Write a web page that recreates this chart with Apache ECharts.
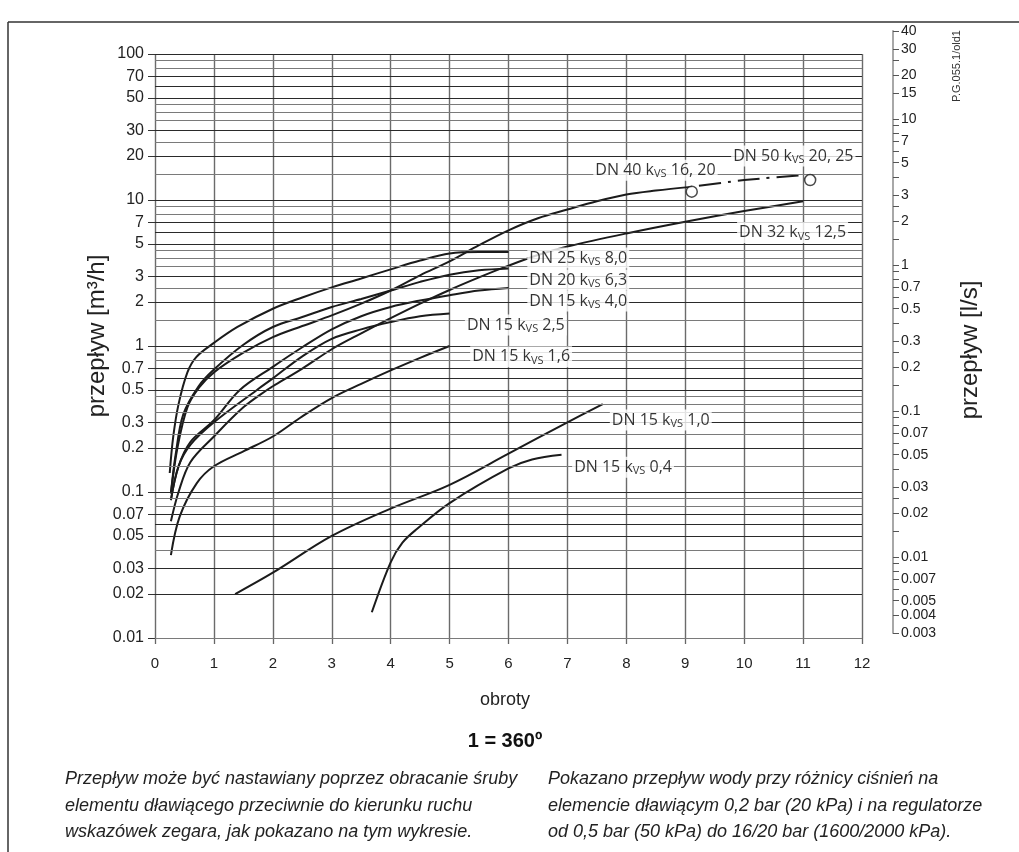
<!DOCTYPE html>
<html>
<head>
<meta charset="utf-8">
<script src="https://cdn.jsdelivr.net/npm/echarts@6/dist/echarts.min.js"></script>
<style>
  html, body { margin: 0; padding: 0; background: #fff; }
  #chart { width: 1019px; height: 852px; }
</style>
</head>
<body>
<div id="chart"></div>
<script>
// curves: [obroty, przepływ m3/h]
const dn25_80 = [[0.25,0.135],[0.31,0.24],[0.4,0.4],[0.55,0.66],[0.7,0.84],[1,1.05],[1.4,1.35],[2,1.8],[2.5,2.15],[3,2.52],[3.5,2.9],[4,3.35],[4.5,3.85],[5,4.3],[5.5,4.4],[6,4.4]];
const dn20_63 = [[0.27,0.098],[0.35,0.18],[0.48,0.34],[0.74,0.53],[1,0.69],[1.5,1.02],[2,1.35],[2.5,1.58],[3,1.85],[3.5,2.1],[4,2.4],[4.5,2.75],[5,3.08],[5.5,3.3],[6,3.4]];
const dn40_16 = [[0.27,0.098],[0.38,0.2],[0.55,0.38],[0.75,0.52],[1,0.66],[1.5,0.9],[2,1.15],[2.5,1.37],[3,1.62],[3.5,1.95],[4,2.4],[4.5,3.05],[5,3.8],[5.5,4.9],[6,6.2],[6.5,7.5],[7,8.6],[7.5,9.8],[8,10.9],[8.5,11.6],[9.1,12.3]];
const dn50_20 = [[9.1,12.3],[10,13.7],[11,14.8]];
const dn32_125 = [[0.27,0.063],[0.4,0.1],[0.6,0.16],[1,0.24],[1.5,0.38],[1.9,0.5],[2,0.53],[2.5,0.7],[3,0.95],[3.5,1.22],[4,1.55],[4.5,1.95],[5,2.42],[5.5,2.95],[6,3.55],[6.5,4.2],[7,4.8],[8,5.9],[9,7.1],[10,8.4],[11,9.8]];
const dn15_40 = [[0.27,0.088],[0.4,0.15],[0.6,0.22],[1,0.31],[1.44,0.5],[2,0.72],[2.5,0.98],[3,1.3],[3.5,1.6],[4,1.85],[4.5,2.05],[5,2.23],[5.5,2.4],[6,2.5]];
const dn15_25 = [[0.27,0.088],[0.4,0.15],[0.6,0.21],[1,0.3],[1.73,0.5],[2,0.6],[2.5,0.85],[3,1.12],[3.5,1.3],[4,1.46],[4.5,1.6],[5,1.67]];
const dn15_16 = [[0.27,0.037],[0.42,0.068],[0.71,0.115],[1,0.15],[1.5,0.19],[2,0.24],[2.5,0.33],[3,0.44],[3.5,0.55],[4,0.68],[4.5,0.83],[5,1.0]];
const dn15_10 = [[1.36,0.02],[2,0.028],[3,0.05],[4,0.077],[5,0.112],[6,0.183],[7,0.3],[7.6,0.4]];
const dn15_04 = [[3.68,0.015],[4,0.033],[4.2,0.045],[4.45,0.056],[5,0.084],[6,0.145],[6.4,0.167],[6.9,0.18]];
const endPoints = [[9.11,11.4],[11.12,13.7]];

// curve labels: [x, y, DN, kvs]
const curveLabels = [
  [9.78, 20, 'DN 50', '20, 25'],
  [7.44, 16, 'DN 40', '16, 20'],
  [9.88, 6, 'DN 32', '12,5'],
  [6.32, 4, 'DN 25', '8,0'],
  [6.32, 2.83, 'DN 20', '6,3'],
  [6.32, 2.03, 'DN 15', '4,0'],
  [5.26, 1.39, 'DN 15', '2,5'],
  [5.35, 0.845, 'DN 15', '1,6'],
  [7.72, 0.311, 'DN 15', '1,0'],
  [7.08, 0.148, 'DN 15', '0,4']
];

// axis ticks
const leftLabels = [0.01,0.02,0.03,0.05,0.07,0.1,0.2,0.3,0.5,0.7,1,2,3,5,7,10,20,30,50,70,100];
const gridMultipliers = [1,1.5,2,2.5,3,3.5,4,4.5,5,6,7,8,9];
const gridDecades = [0.01,0.1,1,10];
const rightLabels = [40,30,20,15,10,7,5,3,2,1,0.7,0.5,0.3,0.2,0.1,0.07,0.05,0.03,0.02,0.01,0.007,0.005,0.004,0.003];
const rightTicks = [40,30,25,20,15,10,9,8,7,6,5,4,3,2.5,2,1.5,1,0.9,0.8,0.7,0.6,0.5,0.4,0.3,0.25,0.2,0.15,0.1,0.09,0.08,0.07,0.06,0.05,0.04,0.03,0.025,0.02,0.015,0.01,0.009,0.008,0.007,0.006,0.005,0.004,0.003];

const fmt = (v) => String(parseFloat(Number(v).toPrecision(6)));
const near = (a, b) => Math.abs(a - b) / b < 1e-6;
const isMajor = (v) => leftLabels.some((l) => near(v, l)) || [60, 6, 0.6, 0.06].some((l) => near(v, l));

const gridValues = [];
gridDecades.forEach((d) => gridMultipliers.forEach((m) => gridValues.push(+(m * d).toPrecision(6))));
gridValues.push(100);

const FONT = "'Liberation Sans', Arial, sans-serif";
const INK = '#1b1b1b';

function curve(data, extra) {
  return Object.assign({
    type: 'line',
    data: data,
    showSymbol: false,
    smooth: 0.35,
    lineStyle: { color: INK, width: 2 },
    silent: true,
    z: 3
  }, extra || {});
}

const chart = echarts.init(document.getElementById('chart'), null, { renderer: 'canvas' });

chart.setOption({
  animation: false,
  backgroundColor: '#fff',
  grid: [
    { left: 155, right: 157, top: 54, bottom: 214 },
    { left: 893, width: 60, top: 30.9, height: 602.2 }
  ],
  xAxis: [
    {
      type: 'value', min: 0, max: 12, interval: 1,
      axisLine: { show: true, lineStyle: { color: '#333', width: 1 } },
      axisTick: { show: true, length: 6, lineStyle: { color: '#666', width: 1.3 } },
      axisLabel: { color: '#222', fontSize: 15, fontFamily: FONT, margin: 18 },
      splitLine: { show: true, lineStyle: { color: '#6b6b6b', width: 1.4 } }
    },
    { gridIndex: 1, type: 'value', min: 0, max: 1, show: false }
  ],
  yAxis: [
    {
      type: 'log', logBase: 10, min: 0.01, max: 100,
      axisLine: { show: false },
      axisTick: { show: true, length: 7, customValues: leftLabels, lineStyle: { color: '#333', width: 1 } },
      axisLabel: { color: '#222', fontSize: 16, fontFamily: FONT, margin: 11, customValues: leftLabels, formatter: fmt },
      splitLine: { show: false }
    },
    {
      gridIndex: 1, type: 'log', logBase: 10, min: 0.003, max: 40, position: 'left',
      axisLine: { show: true, lineStyle: { color: '#a8a8a8', width: 2 } },
      axisTick: { show: true, inside: true, length: 6, customValues: rightTicks, lineStyle: { color: '#555', width: 1 } },
      axisLabel: { inside: true, color: '#222', fontSize: 14, fontFamily: FONT, margin: 8, customValues: rightLabels, formatter: fmt },
      splitLine: { show: false }
    }
  ],
  series: [
    {
      type: 'line',
      data: [[0, 0.01]],
      showSymbol: false,
      lineStyle: { opacity: 0 },
      silent: true,
      z: 1,
      markLine: {
        silent: true,
        symbol: ['none', 'none'],
        label: { show: false },
        animation: false,
        data: gridValues.map((v) => ({
          yAxis: v,
          lineStyle: { type: 'solid', color: isMajor(v) ? '#2a2a2a' : '#7a7a7a', width: isMajor(v) ? 1.1 : 1 }
        }))
      }
    },
    curve(dn25_80),
    curve(dn20_63),
    curve(dn40_16),
    curve(dn50_20, { smooth: 0.2, lineStyle: { color: INK, width: 2, type: [22, 7, 3, 7], dashOffset: -8 } }),
    curve(dn32_125),
    curve(dn15_40),
    curve(dn15_25),
    curve(dn15_16),
    curve(dn15_10),
    curve(dn15_04),
    {
      type: 'scatter',
      data: endPoints,
      symbol: 'circle',
      symbolSize: 11,
      itemStyle: { color: '#fff', borderColor: INK, borderWidth: 1.5 },
      silent: true,
      z: 5
    },
    {
      type: 'scatter',
      data: curveLabels.map((l) => ({ value: [l[0], l[1]], dn: l[2], kvs: l[3] })),
      symbolSize: 0,
      silent: true,
      z: 6,
      label: {
        show: true,
        position: 'right',
        distance: 0,
        backgroundColor: '#fff',
        padding: [1, 2, 1, 2],
        formatter: (p) => '{t|' + p.data.dn + ' k}{s|VS}{t| ' + p.data.kvs + '}',
        rich: {
          t: { fontSize: 16, fontFamily: "'Open Sans', sans-serif", color: '#000', lineHeight: 19 },
          s: { fontSize: 11, fontFamily: "'Open Sans', sans-serif", color: '#000', lineHeight: 19, verticalAlign: 'bottom', padding: [6, 0, 0, 0] }
        }
      }
    }
  ],
  graphic: [
    { type: 'line', shape: { x1: 8, y1: 22, x2: 1019, y2: 22 }, style: { stroke: '#333', lineWidth: 1.5 }, silent: true },
    { type: 'line', shape: { x1: 8, y1: 22, x2: 8, y2: 852 }, style: { stroke: '#333', lineWidth: 1.5 }, silent: true },
    { type: 'text', x: 97, y: 336, rotation: Math.PI / 2, style: { text: 'przepływ [m³/h]', font: '24px ' + FONT, fill: '#222', align: 'center', verticalAlign: 'middle' } },
    { type: 'text', x: 970, y: 350, rotation: Math.PI / 2, style: { text: 'przepływ [l/s]', font: '24px ' + FONT, fill: '#222', align: 'center', verticalAlign: 'middle' } },
    { type: 'text', x: 957, y: 66, rotation: Math.PI / 2, style: { text: 'P.G.055.1/old1', font: '11px ' + FONT, fill: '#333', align: 'center', verticalAlign: 'middle' } },
    { type: 'text', x: 505, y: 700, style: { text: 'obroty', font: '18px ' + FONT, fill: '#222', align: 'center', verticalAlign: 'middle' } },
    { type: 'text', x: 505, y: 741, style: { text: '1 = 360º', font: 'bold 20px ' + FONT, fill: '#111', align: 'center', verticalAlign: 'middle' } },
    { type: 'text', x: 65, y: 766, style: { text: 'Przepływ może być nastawiany poprzez obracanie śruby\nelementu dławiącego przeciwnie do kierunku ruchu\nwskazówek zegara, jak pokazano na tym wykresie.', font: 'italic 18px ' + FONT, fill: '#222', lineHeight: 26.5 } },
    { type: 'text', x: 548, y: 766, style: { text: 'Pokazano przepływ wody przy różnicy ciśnień na\nelemencie dławiącym 0,2 bar (20 kPa) i na regulatorze\nod 0,5 bar (50 kPa) do 16/20 bar (1600/2000 kPa).', font: 'italic 18px ' + FONT, fill: '#222', lineHeight: 26.5 } }
  ]
});
</script>
</body>
</html>
